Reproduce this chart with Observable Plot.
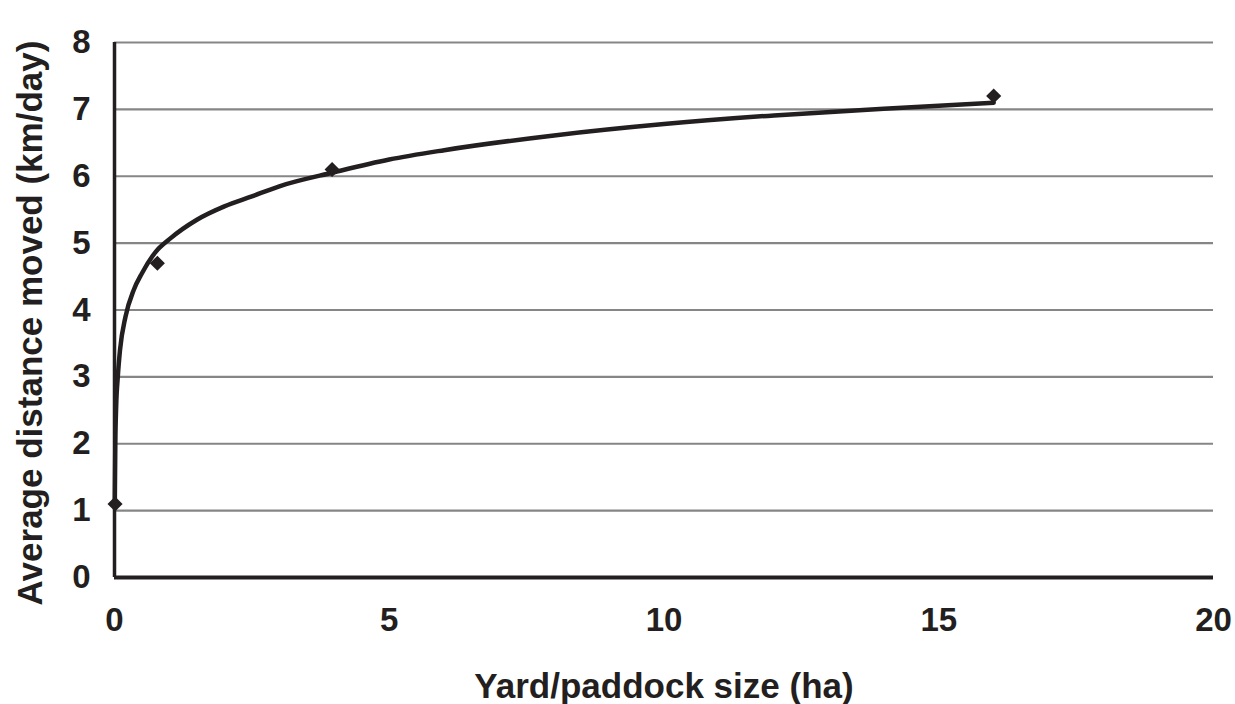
<!DOCTYPE html>
<html>
<head>
<meta charset="utf-8">
<script src="https://cdn.jsdelivr.net/npm/d3@7"></script>
<script src="https://cdn.jsdelivr.net/npm/@observablehq/plot@0.6"></script>
<style>
  html, body { margin: 0; padding: 0; background: #ffffff; }
  #chart { width: 1235px; height: 704px; }
</style>
</head>
<body>
<div id="chart"></div>
<script>
// Observed data points (yard/paddock size in ha, average distance in km/day)
const pointX = [0.01, 0.78, 3.96, 16.0];
const pointY = [1.1, 4.7, 6.1, 7.2];

// Trend line
const curveX = [0.005, 0.015, 0.03, 0.06, 0.1, 0.2, 0.35, 0.5, 0.75, 1.0, 1.5, 2, 2.5, 3, 4, 5, 6, 8, 10, 12, 14, 16.0];
const curveY = [1.1, 2.0, 2.55, 3.0, 3.4, 3.9, 4.3, 4.55, 4.87, 5.06, 5.35, 5.55, 5.7, 5.85, 6.06, 6.25, 6.39, 6.61, 6.78, 6.91, 7.01, 7.1];

const xTicks = [0, 5, 10, 15, 20];
const yTicks = [0, 1, 2, 3, 4, 5, 6, 7, 8];
const xTitle = "Yard/paddock size (ha)";
const yTitle = "Average distance moved (km/day)";

const points = pointX.map((x, i) => ({x, y: pointY[i]}));
const curve = curveX.map((x, i) => ({x, y: curveY[i]}));

const ink = "#231f20";

const chart = Plot.plot({
  width: 1235,
  height: 704,
  marginLeft: 114,
  marginRight: 22,
  marginTop: 42,
  marginBottom: 127,
  style: {
    fontFamily: "'Liberation Sans', Arial, sans-serif",
    fontWeight: "bold",
    fontSize: "33px",
    color: ink,
    background: "#ffffff"
  },
  x: {domain: [0, 20], ticks: xTicks, tickSize: 0, tickPadding: 30, label: null, tickFormat: d => String(d)},
  y: {domain: [0, 8], ticks: yTicks, tickSize: 0, tickPadding: 24, label: null, tickFormat: d => String(d)},
  marks: [
    Plot.gridY(yTicks, {stroke: "#868686", strokeWidth: 2.2, strokeOpacity: 1}),
    Plot.ruleX([0], {stroke: ink, strokeWidth: 3.5}),
    Plot.ruleY([0], {stroke: ink, strokeWidth: 4}),
    Plot.line(curve, {x: "x", y: "y", stroke: ink, strokeWidth: 4.5, curve: "monotone-x"}),
    Plot.dot(points, {x: "x", y: "y", symbol: "diamond2", r: 6.8, fill: ink, stroke: null}),
    Plot.text([xTitle], {text: d => d, frameAnchor: "bottom", textAnchor: "middle", lineAnchor: "bottom", dy: 120, fontSize: 35, fontWeight: "bold", fill: ink}),
    Plot.text([yTitle], {text: d => d, frameAnchor: "left", textAnchor: "middle", lineAnchor: "middle", rotate: -90, dx: -84, dy: 13, fontSize: 35, fontWeight: "bold", fill: ink})
  ]
});

// make sure the axis tick labels use the large bold size
d3.select(chart).selectAll("text")
  .filter(function () {
    const g = this.closest("g[aria-label]");
    return g && /axis/.test(g.getAttribute("aria-label"));
  })
  .style("font-size", "33px")
  .style("font-weight", "bold");

document.getElementById("chart").appendChild(chart);
</script>
</body>
</html>
